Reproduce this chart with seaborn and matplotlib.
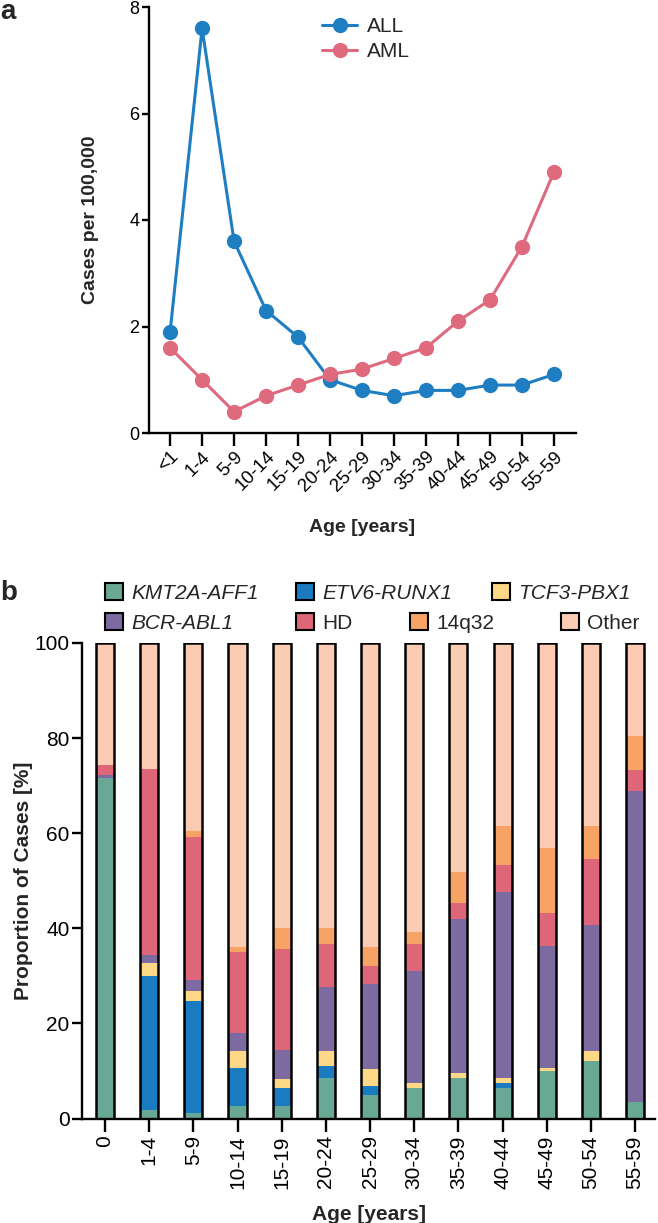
import matplotlib
matplotlib.use("Agg")
import matplotlib.pyplot as plt
from matplotlib.patches import Patch
import numpy as np
import pandas as pd
import seaborn as sns

# Panel a: incidence per 100,000
age_groups_a = ["<1", "1-4", "5-9", "10-14", "15-19", "20-24", "25-29",
                "30-34", "35-39", "40-44", "45-49", "50-54", "55-59"]
all_cases = [1.9, 7.6, 3.6, 2.3, 1.8, 1.0, 0.8, 0.7, 0.8, 0.8, 0.9, 0.9, 1.1]
aml_cases = [1.6, 1.0, 0.4, 0.7, 0.9, 1.1, 1.2, 1.4, 1.6, 2.1, 2.5, 3.5, 4.9]

# Panel b: proportion of cases per subtype (segments, bottom to top)
age_groups_b = ["0", "1-4", "5-9", "10-14", "15-19", "20-24", "25-29",
                "30-34", "35-39", "40-44", "45-49", "50-54", "55-59"]
kmt2a_aff1 = [71.6, 1.8, 1.1, 2.6, 2.6, 8.5, 4.9, 6.4, 8.5, 6.4, 10.0, 12.1, 3.5]
etv6_runx1 = [0.0, 28.2, 23.7, 8.0, 3.9, 2.6, 1.9, 0.0, 0.0, 1.1, 0.0, 0.0, 0.0]
tcf3_pbx1 = [0.0, 2.8, 2.0, 3.5, 1.8, 3.1, 3.6, 1.1, 1.1, 1.1, 0.7, 2.0, 0.0]
bcr_abl1 = [0.6, 1.6, 2.4, 3.8, 6.1, 13.5, 17.9, 23.6, 32.3, 39.1, 25.6, 26.6, 65.4]
hd = [2.2, 39.0, 30.1, 17.2, 21.3, 9.0, 3.7, 5.7, 3.5, 5.7, 7.0, 13.9, 4.3]
q14q32 = [0.0, 0.0, 1.1, 0.9, 4.3, 3.3, 4.0, 2.5, 6.4, 8.2, 13.6, 7.0, 7.3]
other = [25.6, 26.6, 39.6, 64.0, 60.0, 60.0, 64.0, 60.7, 48.2, 38.4, 43.1, 38.4, 19.5]

subtypes = ["KMT2A-AFF1", "ETV6-RUNX1", "TCF3-PBX1", "BCR-ABL1", "HD", "14q32", "Other"]
subtype_colors = ["#6aa896", "#1b7bc1", "#fdd887", "#7c6aa0", "#dd6679", "#f7a366", "#fccbb3"]
italic_subtypes = {"KMT2A-AFF1", "ETV6-RUNX1", "TCF3-PBX1", "BCR-ABL1"}

sns.set_theme(style="ticks")
plt.rcParams["font.family"] = ["Liberation Sans", "DejaVu Sans"]
plt.rcParams["axes.linewidth"] = 1.7
plt.rcParams["xtick.major.width"] = 1.7
plt.rcParams["ytick.major.width"] = 1.7
plt.rcParams["axes.edgecolor"] = "black"
plt.rcParams["xtick.color"] = "black"
plt.rcParams["ytick.color"] = "black"

W, H = 658, 1223
fig = plt.figure(figsize=(W / 100, H / 100), dpi=100)


def fx(px):
    return px / W


def fy(py):
    return 1 - py / H


# ---------------- panel a ----------------
ax_a = fig.add_axes([fx(149), fy(433), fx(576 - 149), (433 - 7) / H])
df_a = pd.DataFrame({
    "age": age_groups_a * 2,
    "cases": all_cases + aml_cases,
    "type": ["ALL"] * len(all_cases) + ["AML"] * len(aml_cases),
})
sns.lineplot(data=df_a, x="age", y="cases", hue="type",
             palette={"ALL": "#1f7ec2", "AML": "#e06a7d"},
             marker="o", markersize=11, markeredgewidth=0, linewidth=2.2,
             sort=False, ax=ax_a)
ax_a.set_xlim(-0.66, 12.69)
ax_a.set_ylim(0, 8)
ax_a.set_yticks([0, 2, 4, 6, 8])
ax_a.tick_params(axis="y", labelsize=13, length=5, pad=2)
ax_a.tick_params(axis="x", labelsize=13.5, length=9, pad=2)
for lbl in ax_a.get_xticklabels():
    lbl.set_rotation(45)
    lbl.set_ha("right")
    lbl.set_rotation_mode("anchor")
ax_a.set_xlabel("Age [years]", fontsize=14, fontweight="bold", labelpad=18)
ax_a.set_ylabel("Cases per 100,000", fontsize=14, fontweight="bold", labelpad=22)
sns.despine(ax=ax_a)
handles, labels = ax_a.get_legend_handles_labels()
ax_a.legend(handles, labels, loc="upper left", bbox_to_anchor=(fx(322), fy(17)),
            bbox_transform=fig.transFigure, frameon=False, fontsize=15,
            handlelength=1.7, handletextpad=0.45, labelspacing=0.3,
            borderpad=0, borderaxespad=0)

# ---------------- panel b ----------------
ax_b = fig.add_axes([fx(82), fy(1118.5), fx(655 - 82), (1118.5 - 643) / H])
stack = np.array([kmt2a_aff1, etv6_runx1, tcf3_pbx1, bcr_abl1, hd, q14q32, other])
cum = np.cumsum(stack, axis=0)
bar_width = 0.41
for i in range(len(subtypes) - 1, -1, -1):
    sns.barplot(x=age_groups_b, y=cum[i], color=subtype_colors[i], saturation=1,
                width=bar_width, linewidth=0, edgecolor="none", errorbar=None, ax=ax_b)
sns.barplot(x=age_groups_b, y=cum[-1], color="black", fill=False, width=bar_width,
            linewidth=1.8, errorbar=None, ax=ax_b)
ax_b.set_xlim(-0.52, 12.45)
ax_b.set_ylim(0, 100)
ax_b.set_yticks([0, 20, 40, 60, 80, 100])
ax_b.tick_params(axis="y", labelsize=15, length=7, pad=2)
ax_b.tick_params(axis="x", labelsize=15, length=9, pad=3, labelrotation=90)
ax_b.set_xlabel("Age [years]", fontsize=15, fontweight="bold", labelpad=12)
ax_b.set_ylabel("Proportion of Cases [%]", fontsize=15, fontweight="bold", labelpad=1)
sns.despine(ax=ax_b)

# legend for panel b: two irregular rows, one entry each
legend_x = [105, 296, 492, 105, 296, 410, 561]
legend_y = [593, 593, 593, 623, 623, 623, 623]
for name, color, lx, ly in zip(subtypes, subtype_colors, legend_x, legend_y):
    leg = fig.legend([Patch(facecolor=color, edgecolor="black", linewidth=1.5)], [name],
                     loc="center left", bbox_to_anchor=(fx(lx), fy(ly)),
                     frameon=False, fontsize=15,
                     handlelength=0.85, handleheight=0.85, handletextpad=0.4,
                     borderpad=0, borderaxespad=0)
    if name in italic_subtypes:
        leg.get_texts()[0].set_fontstyle("italic")

# panel letters
fig.text(fx(0), fy(12), "a", fontsize=20, fontweight="bold", va="center", ha="left")
fig.text(fx(0), fy(593), "b", fontsize=20, fontweight="bold", va="center", ha="left")

fig.savefig("out.png", dpi=100)
